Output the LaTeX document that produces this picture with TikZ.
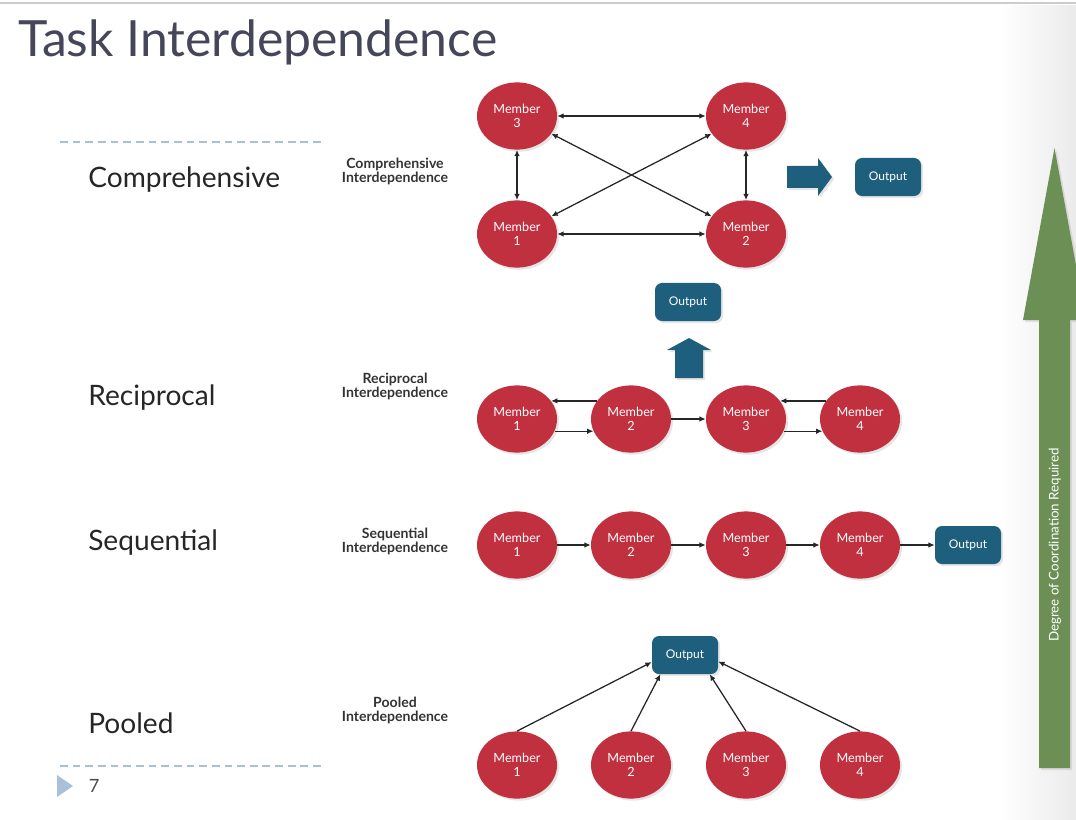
\documentclass[tikz,border=0pt]{standalone}
\usepackage{fontspec}
\setmainfont{Lato}
\usetikzlibrary{shapes.geometric,arrows.meta,shadows}
\definecolor{memberRed}{HTML}{C0303F}
\definecolor{outputBlue}{HTML}{1F5F7E}
\definecolor{degreeGreen}{HTML}{6B8F55}
\definecolor{titleGray}{HTML}{46465A}
\definecolor{dashBlue}{HTML}{A8C0D8}
\begin{document}
\begin{tikzpicture}[x=0.025cm, y=-0.025cm,
	memberNode/.style={ellipse, fill=memberRed, text=white, minimum width=2cm, minimum height=1.68cm, inner sep=0pt, align=center, font=\fontsize{9}{10}\selectfont, drop shadow={opacity=0.2, shadow xshift=1.5pt, shadow yshift=-1.5pt}},
	outputBox/.style={rectangle, rounded corners=5pt, fill=outputBlue, text=white, minimum width=1.65cm, minimum height=0.95cm, inner sep=0pt, font=\fontsize{8.5}{10}\selectfont, drop shadow={opacity=0.2, shadow xshift=1.5pt, shadow yshift=-1.5pt}},
	oneWay/.style={line width=0.9pt, draw=black!85, -{Latex[length=4.5pt,width=4pt]}},
	twoWay/.style={line width=0.9pt, draw=black!85, {Latex[length=4.5pt,width=4pt]}-{Latex[length=4.5pt,width=4pt]}},
	levelLabel/.style={anchor=base west, inner sep=0pt, font=\fontsize{20}{24}\selectfont, text=black!85},
	levelCaption/.style={align=center, font=\bfseries\fontsize{10}{10}\selectfont, text=black!80},
	dashRule/.style={draw=dashBlue, line width=1.4pt, dash pattern=on 5.5pt off 3.5pt}]
	\useasboundingbox (0,0) rectangle (1076,820);
	\shade[left color=white, right color=black!8] (1000,6) rectangle (1076,820);
	\draw[black!20, line width=1.5pt] (0,3) -- (1076,3);

	\node[anchor=base west, inner sep=0pt, font=\fontsize{35.5}{42}\selectfont, text=titleGray](title) at (18,57){Task Interdependence};

	\draw[dashRule] (60,142) -- (325,142);
	\draw[dashRule] (60,766) -- (325,766);
	\fill[dashBlue] (57,775) -- (73,786) -- (57,797) -- cycle;
	\node[anchor=west, font=\fontsize{13}{15}\selectfont, text=black!70](pageNum) at (84,786){7};

	\node[levelLabel](compLabel) at (88,188){Comprehensive};
	\node[levelLabel](recipLabel) at (88,405){Reciprocal};
	\node[levelLabel](seqLabel) at (88,550){Sequential};
	\node[levelLabel](poolLabel) at (88,733){Pooled};

	\node[levelCaption](compCaption) at (395,171){Comprehensive\\Interdependence};
	\node[levelCaption](recipCaption) at (395,386){Reciprocal\\Interdependence};
	\node[levelCaption](seqCaption) at (395,541){Sequential\\Interdependence};
	\node[levelCaption](poolCaption) at (395,710){Pooled\\Interdependence};

	% comprehensive
	\node[memberNode](comp3) at (517,116){Member\\3};
	\node[memberNode](comp4) at (746,116){Member\\4};
	\node[memberNode](comp1) at (517,234){Member\\1};
	\node[memberNode](comp2) at (746,234){Member\\2};
	\node[outputBox](compOut) at (888,177){Output};
	\draw[twoWay] (comp3) -- (comp4);
	\draw[twoWay] (comp1) -- (comp2);
	\draw[twoWay] (comp3) -- (comp1);
	\draw[twoWay] (comp4) -- (comp2);
	\draw[twoWay] (comp3) -- (comp2);
	\draw[twoWay] (comp1) -- (comp4);
	\fill[outputBlue, drop shadow={opacity=0.2, shadow xshift=1.5pt, shadow yshift=-1.5pt}] (787,166) -- (818,166) -- (818,158) -- (832,177) -- (818,196) -- (818,188) -- (787,188) -- cycle;

	% reciprocal
	\node[outputBox](recipOut) at (688,302){Output};
	\fill[outputBlue, drop shadow={opacity=0.2, shadow xshift=1.5pt, shadow yshift=-1.5pt}] (675,378) -- (675,350) -- (667,350) -- (689,338) -- (711,350) -- (703,350) -- (703,378) -- cycle;
	\node[memberNode](recip1) at (517,419){Member\\1};
	\node[memberNode](recip2) at (631,419){Member\\2};
	\node[memberNode](recip3) at (746,419){Member\\3};
	\node[memberNode](recip4) at (860,419){Member\\4};
	\draw[oneWay] (recip2.152) -- (recip1.28);
	\draw[oneWay] (recip1.-18) -- (recip2.198);
	\draw[oneWay] (recip2) -- (recip3);
	\draw[oneWay] (recip4.152) -- (recip3.28);
	\draw[oneWay] (recip3.-18) -- (recip4.198);

	% sequential
	\node[memberNode](seq1) at (517,545){Member\\1};
	\node[memberNode](seq2) at (631,545){Member\\2};
	\node[memberNode](seq3) at (746,545){Member\\3};
	\node[memberNode](seq4) at (860,545){Member\\4};
	\node[outputBox](seqOut) at (968,545){Output};
	\draw[oneWay] (seq1) -- (seq2);
	\draw[oneWay] (seq2) -- (seq3);
	\draw[oneWay] (seq3) -- (seq4);
	\draw[oneWay] (seq4) -- (seqOut);

	% pooled
	\node[outputBox](poolOut) at (685,655){Output};
	\node[memberNode](pool1) at (517,765){Member\\1};
	\node[memberNode](pool2) at (631,765){Member\\2};
	\node[memberNode](pool3) at (746,765){Member\\3};
	\node[memberNode](pool4) at (860,765){Member\\4};
	\draw[oneWay] (pool1.north) -- (poolOut.192);
	\draw[oneWay] (pool2.north) -- (poolOut.218);
	\draw[oneWay] (pool3.north) -- (poolOut.322);
	\draw[oneWay] (pool4.north) -- (poolOut.349);

	% degree arrow
	\fill[degreeGreen, drop shadow={opacity=0.2, shadow xshift=1.5pt, shadow yshift=-1.5pt}] (1039,768) -- (1039,320) -- (1023,320) -- (1054.5,148) -- (1086,320) -- (1070,320) -- (1070,768) -- cycle;
	\node[rotate=90, text=white, font=\fontsize{9.5}{11}\selectfont](degreeText) at (1055,545){Degree of Coordination Required};
\end{tikzpicture}
\end{document}
